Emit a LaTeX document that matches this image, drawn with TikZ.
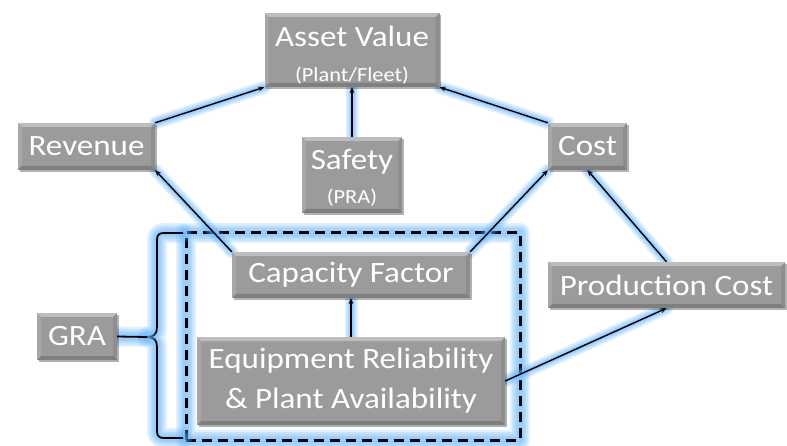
\documentclass[tikz,border=0pt]{standalone}
\usepackage{fontspec}
\setmainfont{Carlito}[FakeStretch=1.12]
\usetikzlibrary{arrows.meta,shadows}
\definecolor{boxgray}{RGB}{155,155,155}
\definecolor{glowblue}{RGB}{105,180,250}
\pgfdeclarelayer{bg}
\pgfsetlayers{bg,main}
\begin{document}
\begin{tikzpicture}[x=1pt,y=-1pt,
  box/.style={fill=boxgray, text=white, inner sep=0pt, align=center,
    font=\fontsize{29.5}{40}\selectfont,
    drop shadow={opacity=0.3,shadow xshift=1.5pt,shadow yshift=-2pt,fill=black},
    path picture={
      \fill[white,opacity=.35] (path picture bounding box.north west) -- (path picture bounding box.north east)
        -- ([xshift=-4pt,yshift=-4pt]path picture bounding box.north east) -- ([xshift=4pt,yshift=-4pt]path picture bounding box.north west) -- cycle;
      \fill[black,opacity=.18] (path picture bounding box.south west) -- (path picture bounding box.south east)
        -- ([xshift=-4pt,yshift=4pt]path picture bounding box.south east) -- ([xshift=4pt,yshift=4pt]path picture bounding box.south west) -- cycle;
      \fill[black,opacity=.08] (path picture bounding box.north east) -- (path picture bounding box.south east)
        -- ([xshift=-4pt,yshift=4pt]path picture bounding box.south east) -- ([xshift=-4pt,yshift=-4pt]path picture bounding box.north east) -- cycle;
      \fill[white,opacity=.12] (path picture bounding box.north west) -- (path picture bounding box.south west)
        -- ([xshift=4pt,yshift=4pt]path picture bounding box.south west) -- ([xshift=4pt,yshift=-4pt]path picture bounding box.north west) -- cycle;
    }},
  gl/.style={preaction={draw=glowblue,line width=#1,opacity=.2,solid,line cap=round,line join=round,-}},
  glow/.style={gl=13pt,gl=10pt,gl=7pt,gl=5pt,gl=3.5pt},
  bigglow/.style={gl=20pt,gl=16pt,gl=12pt,gl=9pt,gl=6pt},
  conn/.style={glow, draw=black, line width=1.4pt, -{Stealth[length=6pt,width=5pt]}},
  dashbox/.style={bigglow, draw=black, line width=3pt, dash pattern=on 10pt off 6pt, inner sep=0pt},
  bracestyle/.style={bigglow, draw=black, line width=1.8pt},
]
\useasboundingbox (0,0) rectangle (787,446);

\node[box, minimum width=175pt, minimum height=74pt] (asset) at (352,50)
  {\rule{0pt}{31pt}Asset Value\\[-5pt]{\fontsize{20}{24}\selectfont (Plant/Fleet)}};
\node[box, minimum width=137pt, minimum height=47pt] (revenue) at (86.5,146.5) {Revenue};
\node[box, minimum width=100pt, minimum height=76pt] (safety) at (352,175)
  {\rule{0pt}{26pt}Safety\\[-6pt]{\fontsize{20}{24}\selectfont (PRA)}};
\node[box, minimum width=79pt, minimum height=47pt] (cost) at (587.5,146.5) {Cost};
\node[box, minimum width=238pt, minimum height=46pt] (cap) at (351,275) {Capacity Factor};
\node[box, minimum width=308pt, minimum height=88pt] (equip) at (351,381)
  {Equipment Reliability\\\& Plant Availability};
\node[box, minimum width=237pt, minimum height=46pt] (prod) at (666.5,285) {Production Cost};
\node[box, minimum width=80pt, minimum height=47pt] (gra) at (77,336.5) {GRA};

\begin{pgfonlayer}{bg}
  \node[dashbox, minimum width=334pt, minimum height=207pt] (grp) at (353,336.5) {};
  \coordinate (bt) at (147,337);
  \draw[bracestyle] (183,233) -- (164,233) .. controls (159,233) and (157,235) .. (157,240)
    -- (157,327) .. controls (157,334) and (154,337) .. (bt)
    .. controls (154,337) and (157,340) .. (157,347)
    -- (157,431) .. controls (157,436) and (159,438) .. (164,438) -- (183,438);
  \draw[bracestyle] (gra.east) -- (bt);
  \draw[conn] (revenue.north east) -- (asset.south west);
  \draw[conn] (safety.north) -- (asset.south);
  \draw[conn] (cost.north west) -- (asset.south east);
  \draw[conn] (cap.north west) -- (revenue.south east);
  \draw[conn] (cap.north east) -- (cost.south west);
  \draw[conn] (prod.north) -- (cost.south);
  \draw[conn] (equip.east) -- (prod.south);
  \draw[conn] (equip.north) -- (cap.south);
\end{pgfonlayer}
\end{tikzpicture}
\end{document}
